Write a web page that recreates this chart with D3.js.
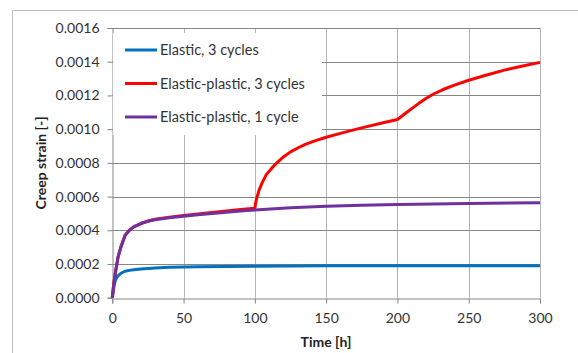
<!DOCTYPE html>
<html><head><meta charset="utf-8">
<script src="https://cdn.jsdelivr.net/npm/d3@7"></script>
<style>body{margin:0;background:#fff;}svg{display:block;font-family:Lato,"Open Sans",sans-serif;}</style>
</head><body><svg id="c" width="578" height="353"></svg>
<script>
const xTicks = [0, 50, 100, 150, 200, 250, 300];
const yTicks = [0, 0.0002, 0.0004, 0.0006, 0.0008, 0.0010, 0.0012, 0.0014, 0.0016];
const seriesNames = ["Elastic, 3 cycles", "Elastic-plastic, 3 cycles", "Elastic-plastic, 1 cycle"];
const seriesColors = ["#0070C0", "#FF0000", "#7030A0"];

const elasticT = [0, 1, 2, 3, 4, 6, 9, 12, 15, 20, 30, 40, 60, 80, 100, 150, 200, 250, 300];
const elasticV = [0, 0.00006, 0.0001, 0.000118, 0.00013, 0.000145, 0.000157, 0.000162, 0.000166, 0.00017, 0.000176, 0.00018, 0.000183, 0.000185, 0.000186, 0.000189, 0.00019, 0.00019, 0.00019];

const ep3T = [0, 1, 2, 3, 4, 6, 9, 12, 15, 20, 25, 30, 40, 50, 60, 70, 80, 90, 100, 100.5, 101, 102, 103, 105, 108, 112, 116, 120, 125, 130, 135, 142, 150, 160, 170, 180, 190, 200, 205, 210, 215, 220, 225, 232, 240, 250, 262, 275, 287, 300];
const ep3V = [0, 0.00008, 0.00014, 0.00019, 0.00024, 0.0003, 0.00037, 0.0004, 0.00042, 0.00044, 0.000455, 0.000465, 0.000478, 0.000488, 0.000497, 0.000506, 0.000515, 0.000523, 0.00053, 0.00056, 0.00058, 0.00061, 0.00064, 0.00068, 0.00073, 0.00077, 0.000805, 0.000835, 0.000865, 0.000888, 0.000908, 0.00093, 0.000952, 0.000975, 0.000997, 0.001018, 0.001038, 0.001057, 0.00109, 0.001122, 0.001153, 0.001182, 0.001207, 0.001235, 0.001261, 0.00129, 0.00132, 0.00135, 0.001373, 0.001396];

const ep1T = [0, 1, 2, 3, 4, 6, 9, 12, 15, 20, 25, 30, 40, 50, 60, 70, 80, 90, 100, 125, 150, 175, 200, 250, 300];
const ep1V = [0, 0.00008, 0.00014, 0.00019, 0.00024, 0.0003, 0.00037, 0.0004, 0.00042, 0.00044, 0.000453, 0.000462, 0.000474, 0.000483, 0.000492, 0.0005, 0.000507, 0.000514, 0.00052, 0.000533, 0.000543, 0.000549, 0.000553, 0.000559, 0.000563];

const series = [
  {name: seriesNames[0], color: seriesColors[0], t: elasticT, v: elasticV},
  {name: seriesNames[1], color: seriesColors[1], t: ep3T, v: ep3V},
  {name: seriesNames[2], color: seriesColors[2], t: ep1T, v: ep1V}
];

const svg = d3.select("#c");
const x = d3.scaleLinear().domain([0, 300]).range([112.3, 540]);
const y = d3.scaleLinear().domain([0, 0.0016]).range([297.7, 28]);

// outer chart border
svg.append("rect").attr("x", 12.5).attr("y", 10.5).attr("width", 620).attr("height", 400)
  .attr("fill", "none").attr("stroke", "#bfbfbf").attr("stroke-width", 1);

// vertical gridlines
svg.append("g").selectAll("line").data(xTicks.filter(d => d > 0)).join("line")
  .attr("x1", d => Math.round(x(d)) + 0.5).attr("x2", d => Math.round(x(d)) + 0.5)
  .attr("y1", y(0.0016)).attr("y2", y(0))
  .attr("stroke", "#b4b4b4").attr("stroke-width", 1);

// horizontal gridlines
svg.append("g").selectAll("line").data(yTicks.filter(d => d > 0)).join("line")
  .attr("x1", x(0)).attr("x2", x(300))
  .attr("y1", d => Math.round(y(d)) + 0.5).attr("y2", d => Math.round(y(d)) + 0.5)
  .attr("stroke", "#868686").attr("stroke-width", 1);

// axes
const xAxis = d3.axisBottom(x).tickValues(xTicks).tickSize(5).tickPadding(10).tickFormat(d3.format("d"));
const gx = svg.append("g").attr("transform", `translate(0,${Math.round(y(0)) + 0.5})`).call(xAxis);
gx.select(".domain").attr("stroke", "#868686");
gx.selectAll(".tick line").attr("stroke", "#868686");
gx.selectAll(".tick text").attr("fill", "#333").style("font-size", "14px").style("font-family", "Lato,'Open Sans',sans-serif");

const yAxis = d3.axisLeft(y).tickValues(yTicks).tickSize(5).tickPadding(8).tickFormat(d3.format(".4f"));
const gy = svg.append("g").attr("transform", `translate(${Math.round(x(0)) + 0.5},0)`).call(yAxis);
gy.select(".domain").attr("stroke", "#868686");
gy.selectAll(".tick line").attr("stroke", "#868686");
gy.selectAll(".tick text").attr("fill", "#333").style("font-size", "14px").style("font-family", "Lato,'Open Sans',sans-serif");

// legend background (covers gridlines)
svg.append("rect").attr("x", 113).attr("y", 33).attr("width", 209).attr("height", 102).attr("fill", "#fff");

// lines
const line = d3.line().x(d => x(d[0])).y(d => y(d[1])).curve(d3.curveLinear);
series.forEach(s => {
  svg.append("path").datum(s.t.map((t, i) => [t, s.v[i]]))
    .attr("fill", "none").attr("stroke", s.color).attr("stroke-width", 3)
    .attr("stroke-linejoin", "round").attr("d", line);
});

// legend
const lg = svg.append("g");
series.forEach((s, i) => {
  const yy = 50 + i * 33.5;
  lg.append("line").attr("x1", 125).attr("x2", 157).attr("y1", yy).attr("y2", yy)
    .attr("stroke", s.color).attr("stroke-width", 3);
  lg.append("text").attr("x", 160).attr("y", yy + 5).attr("fill", "#333")
    .style("font-size", "14.5px").text(s.name);
});

// axis titles
svg.append("text").attr("x", 326).attr("y", 347).attr("text-anchor", "middle")
  .style("font-size", "14px").style("font-weight", "bold").attr("fill", "#222").text("Time [h]");
svg.append("text").attr("transform", "translate(46,163) rotate(-90)").attr("text-anchor", "middle")
  .style("font-size", "14px").style("font-weight", "bold").attr("fill", "#222").text("Creep strain [-]");
</script></body></html>
